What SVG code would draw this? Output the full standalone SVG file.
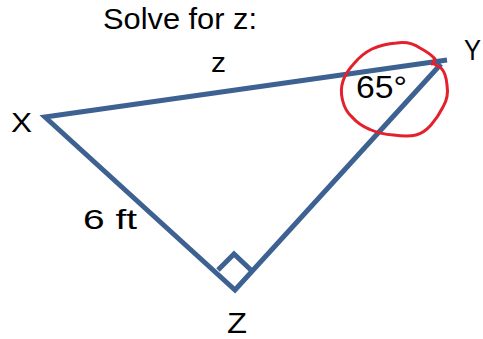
<svg xmlns="http://www.w3.org/2000/svg" width="483" height="339" viewBox="0 0 483 339">
<style>
.edge{stroke:#3D6191;stroke-width:5;fill:none;stroke-linecap:butt;stroke-linejoin:miter}
.lbl{font-family:"Liberation Sans",Arial,sans-serif;fill:#000}
.circ{stroke:#E3202B;stroke-width:3;fill:none;stroke-linejoin:round;stroke-linecap:round}
</style>
<rect width="483" height="339" fill="#fff"/>
<g id="title"><text class="lbl" x="103" y="29" font-size="30" textLength="154" lengthAdjust="spacingAndGlyphs">Solve for z:</text></g>
<g id="connectors">
<path class="edge" d="M447,60 L45,117 L235,290 L441,64"/>
<path class="edge" d="M218,270 L234,254 L252,271"/>
</g>
<g id="node-X"><text class="lbl" x="11" y="132" font-size="28" textLength="21" lengthAdjust="spacingAndGlyphs">X</text></g>
<g id="node-Y"><text class="lbl" x="464" y="60" font-size="29" textLength="17" lengthAdjust="spacingAndGlyphs">Y</text></g>
<g id="node-Z"><text class="lbl" x="227" y="333" font-size="30" textLength="20" lengthAdjust="spacingAndGlyphs">Z</text></g>
<g id="label-z"><text class="lbl" x="211" y="72" font-size="28" textLength="15" lengthAdjust="spacingAndGlyphs">z</text></g>
<g id="label-6ft"><text class="lbl" x="83" y="229" font-size="28" textLength="54" lengthAdjust="spacingAndGlyphs">6 ft</text></g>
<g id="angle-65"><text class="lbl" x="356" y="98" font-size="31" textLength="51" lengthAdjust="spacingAndGlyphs">65°</text>
<path class="circ" d="M432,64 L435,59 Q431,54 420,48 Q410,41 396.5,43 Q383,44 372,49 Q362,54 354.5,63 Q346,72 343,81 Q340,90 342.5,100 Q345,111 352.5,117.5 Q359,125 370,129.5 Q380,134 393.5,135 Q408,137 416,135 Q424,133 431,125 Q438,117 443,107 Q449,97 447,85 Q446,73 441,68 L434,64"/></g>
</svg>
